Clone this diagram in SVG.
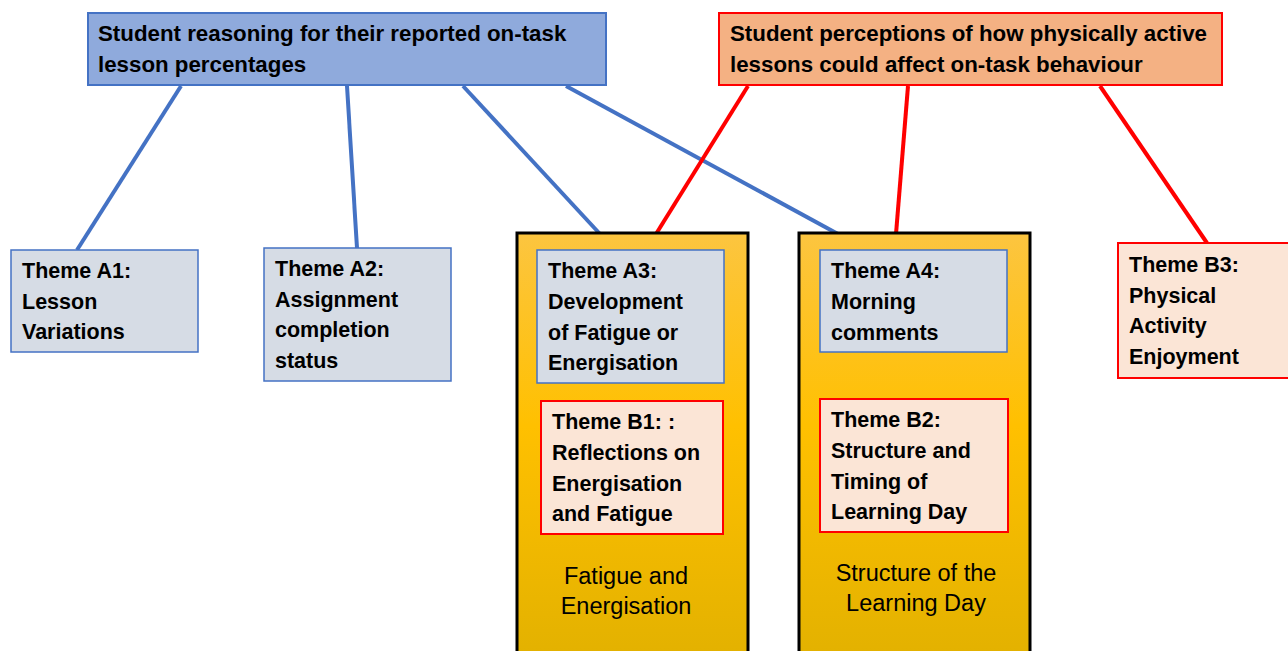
<svg xmlns="http://www.w3.org/2000/svg" width="1288" height="651" viewBox="0 0 1288 651">
<style>
text{font-family:"Liberation Sans",Arial,sans-serif;fill:#000}
.b{font-weight:bold;font-size:21.5px}
.t{font-weight:bold;font-size:22.3px}
.n{font-size:23.5px;text-anchor:middle}
.blue{fill:#D6DCE5;stroke:#4472C4;stroke-width:1.5}
.red{fill:#FBE5D6;stroke:#FF0000;stroke-width:2}
.gold{fill:url(#g);stroke:#000;stroke-width:3}
.cb{stroke:#4472C4;stroke-width:4;fill:none}
.cr{stroke:#FF0000;stroke-width:4;fill:none}
</style>
<defs>
<linearGradient id="g" x1="0" y1="0" x2="0" y2="1">
<stop offset="0" stop-color="#FCC540"/>
<stop offset="0.45" stop-color="#FFC000"/>
<stop offset="1" stop-color="#E2B100"/>
</linearGradient>
</defs>
<rect width="1288" height="651" fill="#fff"/>
<g id="connectors">
<line class="cb" x1="181" y1="86" x2="77" y2="250"/>
<line class="cb" x1="347" y1="86" x2="357" y2="248"/>
<line class="cb" x1="463" y1="86" x2="600" y2="234"/>
<line class="cb" x1="566" y1="86" x2="838" y2="234"/>
<line class="cr" x1="748" y1="86" x2="656" y2="234"/>
<line class="cr" x1="908" y1="86" x2="896" y2="234"/>
<line class="cr" x1="1100" y1="86" x2="1207" y2="243"/>
</g>
<g id="titleA">
<rect x="88" y="13" width="518" height="72" fill="#8FAADC" stroke="#4472C4" stroke-width="2"/>
<text class="t" x="98" y="41">Student reasoning for their reported on-task</text>
<text class="t" x="98" y="72">lesson percentages</text>
</g>
<g id="titleB">
<rect x="719" y="13" width="503" height="72" fill="#F4B183" stroke="#FF0000" stroke-width="2"/>
<text class="t" x="730" y="41">Student perceptions of how physically active</text>
<text class="t" x="730" y="72">lessons could affect on-task behaviour</text>
</g>
<g id="groupFatigue">
<rect class="gold" x="517" y="233" width="231" height="430"/>
<text class="n" x="626" y="584">Fatigue and</text>
<text class="n" x="626" y="614">Energisation</text>
</g>
<g id="groupStructure">
<rect class="gold" x="799" y="233" width="231" height="430"/>
<text class="n" x="916" y="581">Structure of the</text>
<text class="n" x="916" y="611">Learning Day</text>
</g>
<g id="A1">
<rect class="blue" x="11" y="250" width="187" height="102"/>
<text class="b" x="22" y="278">Theme A1:</text>
<text class="b" x="22" y="309">Lesson</text>
<text class="b" x="22" y="339">Variations</text>
</g>
<g id="A2">
<rect class="blue" x="264" y="248" width="187" height="133"/>
<text class="b" x="275" y="276">Theme A2:</text>
<text class="b" x="275" y="307">Assignment</text>
<text class="b" x="275" y="337">completion</text>
<text class="b" x="275" y="368">status</text>
</g>
<g id="A3">
<rect class="blue" x="537" y="250" width="187" height="133"/>
<text class="b" x="548" y="278">Theme A3:</text>
<text class="b" x="548" y="309">Development</text>
<text class="b" x="548" y="340">of Fatigue or</text>
<text class="b" x="548" y="370">Energisation</text>
</g>
<g id="B1">
<rect class="red" x="541" y="401" width="182" height="133"/>
<text class="b" x="552" y="429">Theme B1: :</text>
<text class="b" x="552" y="460">Reflections on</text>
<text class="b" x="552" y="491">Energisation</text>
<text class="b" x="552" y="521">and Fatigue</text>
</g>
<g id="A4">
<rect class="blue" x="820" y="250" width="187" height="102"/>
<text class="b" x="831" y="278">Theme A4:</text>
<text class="b" x="831" y="309">Morning</text>
<text class="b" x="831" y="340">comments</text>
</g>
<g id="B2">
<rect class="red" x="820" y="399" width="188" height="133"/>
<text class="b" x="831" y="427">Theme B2:</text>
<text class="b" x="831" y="458">Structure and</text>
<text class="b" x="831" y="489">Timing of</text>
<text class="b" x="831" y="519">Learning Day</text>
</g>
<g id="B3">
<rect class="red" x="1118" y="243" width="175" height="135"/>
<text class="b" x="1129" y="272">Theme B3:</text>
<text class="b" x="1129" y="303">Physical</text>
<text class="b" x="1129" y="333">Activity</text>
<text class="b" x="1129" y="364">Enjoyment</text>
</g>
</svg>
